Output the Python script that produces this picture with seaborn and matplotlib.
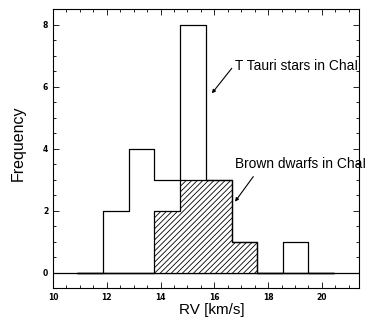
import numpy as np
import pandas as pd
import matplotlib
matplotlib.use("Agg")
import matplotlib.pyplot as plt
import seaborn as sns

# RV bin edges [km/s] and counts
rv_edges = [10.89, 11.85, 12.81, 13.77, 14.72, 15.68, 16.64, 17.59, 18.55, 19.50, 20.46]
ttauri_counts = [0, 2, 4, 3, 8, 3, 1, 0, 1, 0]
brown_counts = [0, 0, 0, 2, 3, 3, 1, 0, 0, 0]

x_ticks = [10, 12, 14, 16, 18, 20]
y_ticks = [0, 2, 4, 6, 8]

sns.set_style("ticks")
plt.rcParams["font.family"] = ["Liberation Sans", "DejaVu Sans"]
plt.rcParams["hatch.linewidth"] = 0.6
for key in ["text.color", "axes.labelcolor", "xtick.color", "ytick.color",
            "axes.edgecolor"]:
    plt.rcParams[key] = "black"

edges = np.array(rv_edges)
centers = (edges[:-1] + edges[1:]) / 2
df = pd.DataFrame({"rv": centers, "ttauri": ttauri_counts, "brown": brown_counts})

fig = plt.figure(figsize=(3.75, 3.23), dpi=100)
ax = fig.add_axes([0.1413, 0.1084, 0.8173, 0.8622])

# zero line across the whole panel
ax.axhline(0, color="black", lw=0.9, zorder=1)

# brown dwarfs: hatched step histogram
sns.histplot(data=df, x="rv", weights="brown", bins=rv_edges, element="step",
             fill=True, facecolor="white", edgecolor="black", hatch="//////",
             linewidth=0.9, alpha=1, ax=ax, zorder=2)

# T Tauri stars: open step outline
sns.histplot(data=df, x="rv", weights="ttauri", bins=rv_edges, element="step",
             fill=False, color="black", linewidth=0.9, ax=ax, zorder=3)

ax.set_xlim(10, 21.4)
ax.set_ylim(-0.5, 8.5)
ax.set_xticks(x_ticks)
ax.set_yticks(y_ticks)
ax.set_xticks(np.arange(10, 21.5, 0.5), minor=True)
ax.set_yticks(np.arange(-0.5, 8.6, 0.5), minor=True)
ax.tick_params(which="both", direction="in", top=True, right=True,
               width=0.6, labelsize=5.5, pad=3.5)
ax.tick_params(which="major", length=4)
ax.tick_params(which="minor", length=2.3)
for lbl in ax.get_xticklabels() + ax.get_yticklabels():
    lbl.set_family("DejaVu Sans")
    lbl.set_fontweight("bold")
for sp in ax.spines.values():
    sp.set_linewidth(0.8)

ax.set_xlabel("RV [km/s]", fontsize=11)
ax.set_ylabel("Frequency", fontsize=11.5)
ax.xaxis.set_label_coords(0.519, -0.054)
ax.yaxis.set_label_coords(-0.088, 0.52)

# annotations with arrows
ax.text(16.77, 6.55, "T Tauri stars in ChaI", fontsize=9.9,
        va="baseline", clip_on=False)
ax.annotate("", xy=(15.91, 5.79), xytext=(16.65, 6.60),
            arrowprops=dict(arrowstyle="-|>", lw=0.8, color="black",
                            mutation_scale=5, shrinkA=0, shrinkB=0))
ax.text(16.77, 3.38, "Brown dwarfs in ChaI", fontsize=9.9,
        va="baseline", clip_on=False)
ax.annotate("", xy=(16.77, 2.29), xytext=(17.45, 3.10),
            arrowprops=dict(arrowstyle="-|>", lw=0.8, color="black",
                            mutation_scale=5, shrinkA=0, shrinkB=0))

fig.savefig("out.png", dpi=100)
